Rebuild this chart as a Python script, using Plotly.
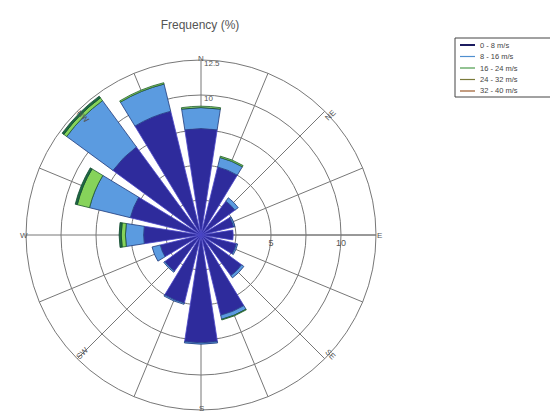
import math
import plotly.graph_objects as go

# ---- data ----
directions = [0, 22.5, 45, 67.5, 90, 112.5, 135, 157.5,
              180, 202.5, 225, 247.5, 270, 292.5, 315, 337.5]
bins = ["0 - 8 m/s", "8 - 16 m/s", "16 - 24 m/s", "24 - 32 m/s", "32 - 40 m/s"]
freq_0_8 = [7.6, 5.0, 3.0, 2.4, 2.3, 2.6, 3.6, 5.9, 7.7, 5.0, 3.2, 3.0, 4.1, 5.2, 7.8, 9.1]
freq_8_16 = [1.5, 0.7, 0.3, 0.1, 0.0, 0.1, 0.2, 0.3, 0.1, 0.1, 0.1, 0.6, 1.3, 3.0, 4.1, 2.0]
freq_16_24 = [0.1, 0.1, 0.0, 0.0, 0.0, 0.0, 0.0, 0.05, 0.0, 0.0, 0.0, 0.0, 0.3, 0.9, 0.25, 0.1]
freq_24_32 = [0.0, 0.0, 0.0, 0.0, 0.0, 0.0, 0.0, 0.0, 0.0, 0.0, 0.0, 0.0, 0.15, 0.15, 0.15, 0.0]
freq_32_40 = [0.0] * 16
radial_ticks = [2.5, 5, 7.5, 10, 12.5]
radial_labels = ["", "5", "", "10", ""]
compass = ["N", "NE", "E", "SE", "S", "SW", "W", "NW"]
compass_angles = [0, 45, 90, 135, 180, 225, 270, 315]

series = [freq_0_8, freq_8_16, freq_16_24, freq_24_32, freq_32_40]
colors = ["#2E2B9C", "#5B9BE0", "#86D35A", "#1E6B46", "#C9A227"]
edge = ["#4B48C8", "#1F3A7A", "#1E5A2E", "#144A30", "#8a6a10"]
legend_line_colors = ["#1c1c60", "#4f8fcf", "#4a9a4a", "#7a7a3a", "#9a5a2a"]

W, H = 550, 414
CX, CY, R = 201, 235, 175   # pixel centre and radius of the rose
RMAX = 12.5
GRID = "#777777"
TXT = "#555555"

fig = go.Figure()
for name, vals, c, e in zip(bins, series, colors, edge):
    fig.add_trace(go.Barpolar(
        r=vals, theta=directions, width=[17.5] * len(directions),
        marker=dict(color=c, line=dict(color=e, width=0.8)),
        name=name, showlegend=False))

def to_paper(rad_px, ang):
    a = math.radians(ang)
    return (CX + rad_px * math.sin(a)) / W, (H - CY + rad_px * math.cos(a)) / H

annotations = []
for lab, ang in zip(compass, compass_angles):
    off = 5 if ang == 180 else 8
    x, y = to_paper(R + off, ang)
    rot = 0
    if ang in (45, 225):
        rot = -45
    elif ang in (135, 315):
        rot = 45
    annotations.append(dict(x=x, y=y, xref="paper", yref="paper", text=lab,
                            showarrow=False, textangle=rot,
                            font=dict(size=8, color=TXT)))
for val, lab in [(10, "10"), (12.5, "12.5")]:
    x, y = to_paper(R * val / RMAX + 3, 0)
    annotations.append(dict(x=x, y=y, xref="paper", yref="paper", text=lab,
                            showarrow=False, xanchor="left", xshift=1,
                            font=dict(size=8, color=TXT)))

# custom compact legend (box partly beyond the right edge, as in the original)
shapes = []
LX0, LY0, LX1, LY1 = 455, 38, 560, 97
shapes.append(dict(type="rect", xref="paper", yref="paper",
                   x0=LX0 / W, x1=LX1 / W, y0=1 - LY1 / H, y1=1 - LY0 / H,
                   line=dict(color="#444444", width=1), fillcolor="white"))
for i, (name, c) in enumerate(zip(bins, legend_line_colors)):
    yy = 1 - (LY0 + 7 + i * 11.5) / H
    shapes.append(dict(type="line", xref="paper", yref="paper",
                       x0=(LX0 + 5) / W, x1=(LX0 + 20) / W, y0=yy, y1=yy,
                       line=dict(color=c, width=2 if i == 0 else 1.2)))
    annotations.append(dict(x=(LX0 + 23) / W, y=yy, xref="paper", yref="paper",
                            text=name, showarrow=False, xanchor="left",
                            yanchor="middle", font=dict(size=7.5, color="#444444")))

fig.update_layout(
    width=W, height=H,
    margin=dict(l=0, r=0, t=0, b=0),
    paper_bgcolor="white",
    showlegend=False,
    font=dict(family="Liberation Sans, Arial", color=TXT),
    title=dict(text="Frequency (%)", x=200 / W, xanchor="center", y=1 - 25 / H,
               yanchor="middle", font=dict(size=12, color=TXT)),
    barmode="stack",
    polar=dict(
        domain=dict(x=[(CX - R) / W, (CX + R) / W], y=[(H - CY - R) / H, (H - CY + R) / H]),
        bgcolor="rgba(0,0,0,0)",
        bargap=0,
        radialaxis=dict(range=[0, RMAX], tickvals=radial_ticks, ticktext=radial_labels,
                        angle=0, side="clockwise", showline=True, linecolor=GRID,
                        gridcolor=GRID, gridwidth=1, ticks="",
                        tickfont=dict(size=9, color=TXT), layer="below traces"),
        angularaxis=dict(rotation=90, direction="clockwise", tickmode="array",
                         tickvals=directions, ticktext=[""] * len(directions),
                         showticklabels=False, ticks="", gridcolor=GRID,
                         linecolor=GRID, linewidth=1, layer="below traces"),
    ),
    shapes=shapes,
    annotations=annotations,
)

fig.write_html("out.html")
